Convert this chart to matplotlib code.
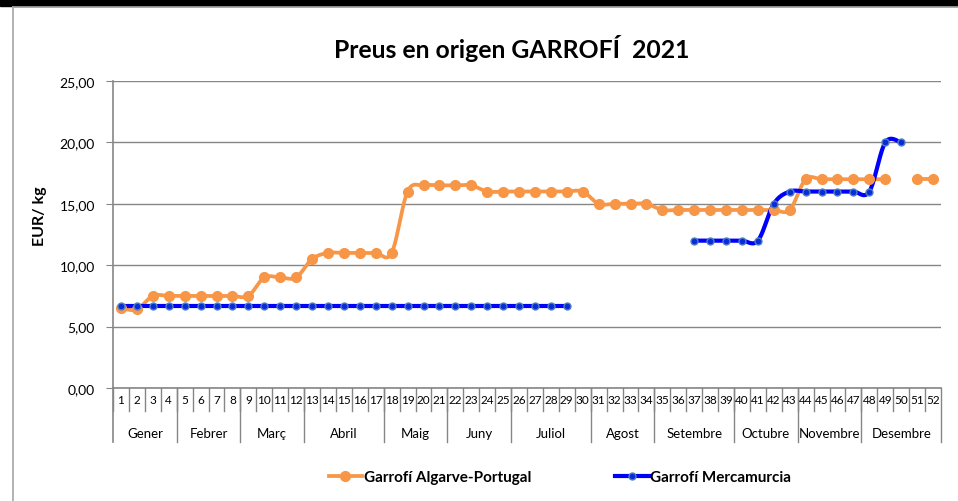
import numpy as np
import matplotlib.pyplot as plt
from matplotlib.lines import Line2D
from matplotlib.patches import Rectangle

plt.rcParams['font.family'] = ['Lato', 'DejaVu Sans']

weeks = list(range(1, 53))

# Garrofí Algarve-Portugal (week 50 missing)
algarve = [6.5, 6.4, 7.5, 7.5, 7.5, 7.5, 7.5, 7.5, 7.5, 9.0,
           9.0, 9.0, 10.5, 11.0, 11.0, 11.0, 11.0, 11.0, 16.0, 16.5,
           16.5, 16.5, 16.5, 16.0, 16.0, 16.0, 16.0, 16.0, 16.0, 16.0,
           15.0, 15.0, 15.0, 15.0, 14.5, 14.5, 14.5, 14.5, 14.5, 14.5,
           14.5, 14.5, 14.5, 17.0, 17.0, 17.0, 17.0, 17.0, 17.0, np.nan,
           17.0, 17.0]

# Garrofí Mercamurcia
mercamurcia = [6.7] * 29 + [np.nan] * 7 + [12.0, 12.0, 12.0, 12.0, 12.0,
                                          15.0, 16.0, 16.0, 16.0, 16.0,
                                          16.0, 16.0, 20.0, 20.0] + [np.nan, np.nan]

months = ['Gener', 'Febrer', 'Març', 'Abril', 'Maig', 'Juny', 'Juliol',
          'Agost', 'Setembre', 'Octubre', 'Novembre', 'Desembre']
month_weeks = [4, 4, 4, 5, 4, 4, 5, 4, 5, 4, 4, 5]

ORANGE = '#F79646'
BLUE = '#0000FF'
GRAY = '#868686'


def smooth(xs, ys, n=20):
    # Excel-like smoothed line (Catmull-Rom through the points)
    xs = np.asarray(xs, float)
    ys = np.asarray(ys, float)
    if len(xs) < 2:
        return xs, ys
    px, py = [], []
    for i in range(len(xs) - 1):
        x0, y0 = (xs[i - 1], ys[i - 1]) if i > 0 else (xs[i], ys[i])
        x3, y3 = (xs[i + 2], ys[i + 2]) if i + 2 < len(xs) else (xs[i + 1], ys[i + 1])
        x1, y1, x2, y2 = xs[i], ys[i], xs[i + 1], ys[i + 1]
        c1 = (x1 + (x2 - x0) / 6, y1 + (y2 - y0) / 6)
        c2 = (x2 - (x3 - x1) / 6, y2 - (y3 - y1) / 6)
        t = np.linspace(0, 1, n)
        bx = (1 - t) ** 3 * x1 + 3 * (1 - t) ** 2 * t * c1[0] + 3 * (1 - t) * t ** 2 * c2[0] + t ** 3 * x2
        by = (1 - t) ** 3 * y1 + 3 * (1 - t) ** 2 * t * c1[1] + 3 * (1 - t) * t ** 2 * c2[1] + t ** 3 * y2
        px.extend(bx)
        py.extend(by)
    return np.array(px), np.array(py)


def segments(xs, ys):
    segs, cur = [], []
    for x, y in zip(xs, ys):
        if np.isnan(y):
            if cur:
                segs.append(cur)
            cur = []
        else:
            cur.append((x, y))
    if cur:
        segs.append(cur)
    return segs


fig = plt.figure(figsize=(9.58, 5.02), dpi=100)
W, H = 958, 502

# frame of the chart
fig.patches.append(Rectangle((0, 1 - 7 / H), 1, 7 / H, transform=fig.transFigure,
                             color='black', zorder=0))
fig.add_artist(Line2D([13 / W, 13 / W], [0, 1 - 8 / H], color='#A6A6A6', lw=1.2))
fig.add_artist(Line2D([13 / W, 1], [1 - 8 / H, 1 - 8 / H], color='#A6A6A6', lw=1.2))

ax = fig.add_axes([113 / W, 1 - 389 / H, (941 - 113) / W, (389 - 82) / H])

for data, col, lw, ms, mfc, mec in [(algarve, ORANGE, 2.7, 7, ORANGE, ORANGE),
                                    (mercamurcia, BLUE, 3.0, 5, '#0A2BD8', '#4F81BD')]:
    for seg in segments(weeks, data):
        sx, sy = zip(*seg)
        cx, cy = smooth(sx, sy)
        ax.plot(cx, cy, color=col, lw=lw, solid_capstyle='round', zorder=3)
        ax.plot(sx, sy, ls='none', marker='o', ms=ms, mfc=mfc, mec=mec, mew=1, zorder=4)

ax.set_xlim(0.5, 52.5)
ax.set_ylim(0, 25)
ax.set_yticks(np.arange(0, 26, 5))
ax.set_yticklabels([f'{v:.2f}'.replace('.', ',') for v in np.arange(0, 26, 5)], fontsize=10)
ax.yaxis.grid(True, color=GRAY, lw=1)
ax.set_axisbelow(True)
ax.tick_params(axis='y', length=5, color=GRAY, pad=8)
ax.set_xticks([])
for s in ['top', 'right']:
    ax.spines[s].set_visible(False)
ax.spines['left'].set_color(GRAY)
ax.spines['bottom'].set_color(GRAY)
ax.spines['left'].set_linewidth(1.2)
ax.spines['bottom'].set_linewidth(1.2)

# two-level category axis
ph = 389 - 82
tr = ax.get_xaxis_transform()
for w in weeks:
    ax.text(w, -12 / ph, str(w), transform=tr, ha='center', va='center', fontsize=8.5)
for k in range(52):
    ax.plot([k + 0.5, k + 0.5], [0, -23 / ph], transform=tr, color=GRAY, lw=1, clip_on=False)
edge = 0.5
ax.plot([edge, edge], [0, -54 / ph], transform=tr, color=GRAY, lw=1.2, clip_on=False)
for m, n in zip(months, month_weeks):
    ax.text(edge + n / 2, -45 / ph, m, transform=tr, ha='center', va='center', fontsize=9.5)
    edge += n
    ax.plot([edge, edge], [0, -54 / ph], transform=tr, color=GRAY, lw=1, clip_on=False)

fig.text(512 / W, 1 - 48 / H, 'Preus en origen GARROFÍ  2021', ha='center', va='center',
         fontsize=17.8, fontweight='bold')
fig.text(40 / W, 1 - 216 / H, 'EUR/ kg', ha='center', va='center', rotation=90,
         fontsize=11.5, fontweight='bold')

handles = [Line2D([], [], color=ORANGE, lw=2.7, marker='o', ms=7, mfc=ORANGE, mec=ORANGE),
           Line2D([], [], color=BLUE, lw=3.0, marker='o', ms=5, mfc='#0A2BD8', mec='#4F81BD')]
fig.legend(handles, ['Garrofí Algarve-Portugal', 'Garrofí Mercamurcia'],
           loc='center', bbox_to_anchor=(560 / W, 1 - 478 / H), ncol=2, frameon=False,
           handlelength=2.2, handletextpad=0.1, columnspacing=5.5,
           prop={'weight': 'bold', 'size': 11})

fig.savefig('out.png', dpi=100)
